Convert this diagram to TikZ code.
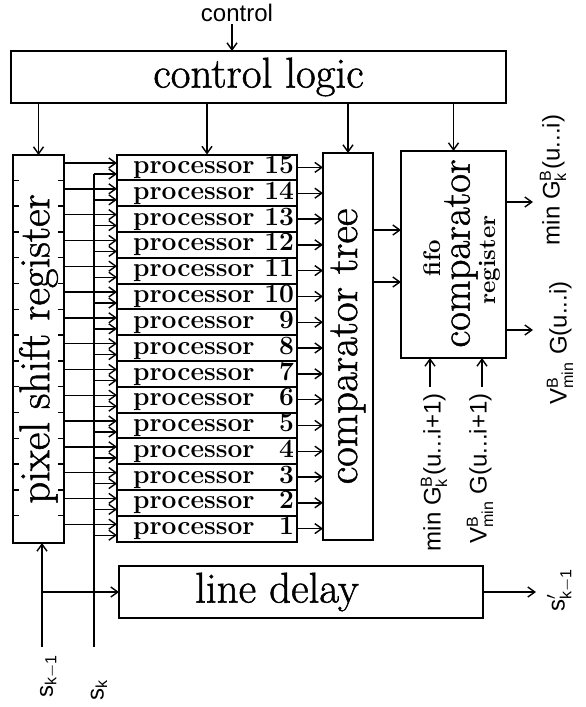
\documentclass[tikz,border=0pt]{standalone}
\usepackage{amsmath}
\usepackage{graphicx}
\usepackage{fontspec}
\setsansfont{Liberation Sans}
\newfontfamily\heavyrm{Latin Modern Roman}[FakeBold=1.2]
\usetikzlibrary{arrows.meta, positioning}

\newcommand{\bigtxt}{\fontsize{21.5}{25}\selectfont\heavyrm}
\newcommand{\cmptxt}{\fontsize{20.5}{24}\selectfont\heavyrm}
\newcommand{\proctxt}{\fontsize{13.2}{15}\selectfont\bfseries}
\newcommand{\smalltxt}{\fontsize{12}{14}\selectfont\bfseries}
\newcommand{\sftxt}{\fontsize{12}{14}\selectfont\sffamily}

\begin{document}
\begin{tikzpicture}[x=0.5pt, y=-0.5pt, >={Straight Barb[length=3.5pt,width=5pt]}]
  \tikzstyle{box} = [draw, rectangle, line width=1pt, inner sep=1pt, outer sep=0pt, font=\bigtxt]
  \tikzstyle{proc} = [draw, rectangle, line width=1pt, inner sep=0pt, outer sep=0pt, minimum width=90pt, minimum height=12.9pt, font=\proctxt]
  \tikzstyle{wire} = [->, line width=0.7pt]
  \tikzstyle{lbl} = [font=\sftxt, inner sep=1pt]

  \useasboundingbox (0,0) rectangle (585,707);

  % control logic
  \node[lbl] (ctl) at (237,13) {control};
  \node[box, minimum width=247.5pt, minimum height=26pt] (ctrl) at (258.5,77) {control logic};
  \draw[wire] ([xshift=-2.5pt]ctl.south) -- ([xshift=-2.5pt]ctl.south |- ctrl.north);

  % shift register and processors
  \node[box, minimum width=25.5pt, minimum height=194pt] (psr) at (38.5,349) {\rotatebox{90}{pixel shift register}};
  \node[proc] (p15) at (207,167.4) {\hspace*{8pt}\makebox[80.5pt][l]{processor\hfill 15}\hspace*{1.5pt}};
  \foreach \i [remember=\i as \last (initially 15)] in {14,13,...,1}
    \node[proc, below=0pt of p\last] (p\i) {\hspace*{8pt}\makebox[80.5pt][l]{processor\hfill \i}\hspace*{1.5pt}};

  \node[box, minimum width=25pt, minimum height=193.5pt] (ctree) at (348,346.5) {\rotatebox{90}{comparator tree}};

  % fifo comparator register
  \node[box, minimum width=52.5pt, minimum height=103.5pt] (fifo) at (453.5,254.5) {};
  \node[rotate=90, font=\smalltxt] (fifot) at ([xshift=-10.5pt,yshift=-2pt]fifo.center) {fifo};
  \node[rotate=90, font=\cmptxt] (cmpt) at ([xshift=3.75pt,yshift=0.5pt]fifo.center) {comparator};
  \node[rotate=90, font=\smalltxt] (regt) at ([xshift=18pt,yshift=-2.75pt]fifo.center) {register};

  \node[box, minimum width=182pt, minimum height=26pt] (ldelay) at (301,592) {line delay\hspace*{24pt}};

  % control lines
  \draw[wire] (ctrl.south -| psr.north) -- (psr.north);
  \draw[wire] (ctrl.south -| p15.north) -- (p15.north);
  \draw[wire] (ctrl.south -| ctree.north) -- (ctree.north);
  \draw[wire] (ctrl.south -| fifo.north) -- (fifo.north);

  % processor inputs and outputs
  \coordinate (skb) at (94,647);
  \coordinate (skmb) at (42,647);
  \foreach \i in {1,...,15} {
    \coordinate (up\i) at ([yshift=2.2pt]p\i.west);
    \coordinate (lo\i) at ([yshift=-3.3pt]p\i.west);
    \draw[wire] (psr.east |- up\i) -- (up\i);
    \draw[wire] (skb |- lo\i) -- (lo\i);
    \draw[wire] (p\i.east) -- (p\i.east -| ctree.west);
  }
  \draw[line width=0.7pt] (skb) -- (skb |- lo15);
  \foreach \i in {2,...,15} {
    \draw[line width=0.7pt] (psr.west |- p\i.south) -- ++(3pt,0);
    \draw[line width=0.7pt] (psr.east |- p\i.south) -- ++(-3pt,0);
  }

  % comparator tree to fifo
  \coordinate (cin1) at ([yshift=12.25pt]fifo.west);
  \coordinate (cin2) at ([yshift=-13.75pt]fifo.west);
  \draw[wire] (ctree.east |- cin1) -- (cin1);
  \draw[wire] (ctree.east |- cin2) -- (cin2);

  % fifo outputs
  \coordinate (gout) at (533,202);
  \coordinate (vout) at (533,330);
  \draw[wire] (fifo.east |- gout) -- (gout);
  \draw[wire] (fifo.east |- vout) -- (vout);
  \node[lbl, rotate=90] (glbl) at (553,180) {min G$^{\textsf{B}}_{\textsf{k}}$(u...i)};
  \node[lbl, rotate=90] (vlbl) at (560,343) {V$^{\textsf{B}}_{\textsf{min}}$ G(u...i)};

  % fifo inputs
  \coordinate (gin) at (430,387);
  \coordinate (vin) at (482,387);
  \draw[wire] (gin) -- (gin |- fifo.south);
  \draw[wire] (vin) -- (vin |- fifo.south);
  \node[lbl, rotate=90, anchor=east] (ginl) at ([xshift=2pt,yshift=-2pt]gin) {min G$^{\textsf{B}}_{\textsf{k}}$(u...i+1)};
  \node[lbl, rotate=90, anchor=east] (vinl) at ([xshift=-1pt,yshift=-2pt]vin) {V$^{\textsf{B}}_{\textsf{min}}$ G(u...i+1)};

  % line delay
  \draw[wire] (skmb) -- (skmb |- psr.south);
  \draw[wire] (skmb |- ldelay.west) -- (ldelay.west);
  \coordinate (sout) at (536,592);
  \draw[wire] (ldelay.east) -- (ldelay.east -| sout);
  \node[lbl, rotate=90] (sol) at (560,590) {s$'_{\textsf{k}-\textsf{1}}$};
  \node[lbl, rotate=90, anchor=east] (skml) at ([xshift=3.5pt,yshift=-2.5pt]skmb) {s$_{\textsf{k}-\textsf{1}}$};
  \node[lbl, rotate=90, anchor=east] (skl) at ([xshift=2.5pt,yshift=-15pt]skb) {s$_{\textsf{k}}$};
\end{tikzpicture}
\end{document}
